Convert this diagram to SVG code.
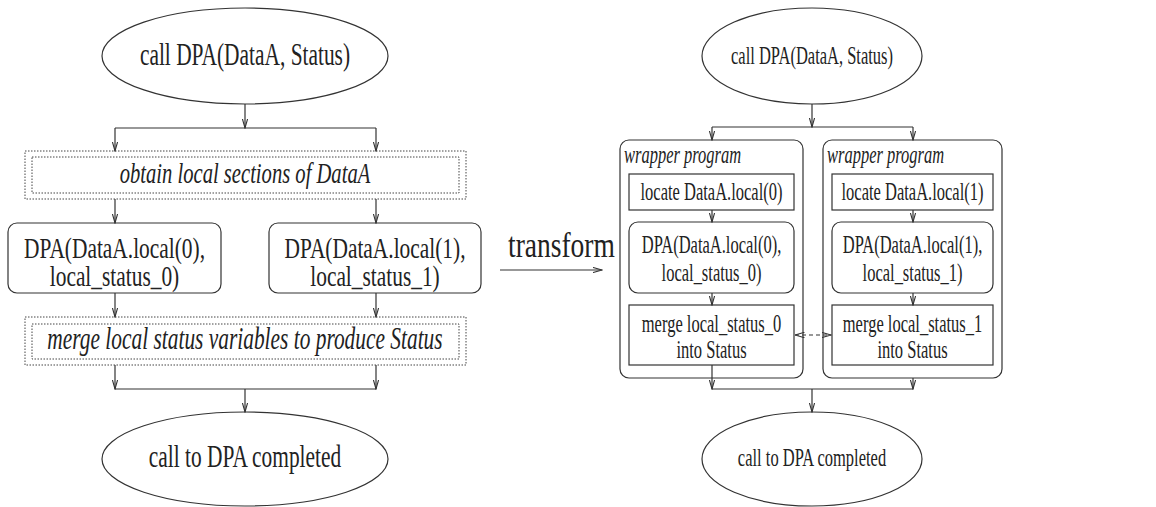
<svg xmlns="http://www.w3.org/2000/svg" width="1156" height="507" viewBox="0 0 1156 507">
  <style>
    .shape { fill: none; stroke: #333; stroke-width: 1.2; }
    .dot { fill: none; stroke: #444; stroke-width: 1; stroke-dasharray: 1.5 1.5; }
    .link { fill: none; stroke: #333; stroke-width: 1.2; }
    .arr { marker-end: url(#vee); }
    .dash { stroke-dasharray: 4 3; marker-start: url(#vee); marker-end: url(#vee); }
    text { font-family: "Liberation Serif", "Times New Roman", serif; fill: #222; text-anchor: middle; }
    .big { font-size: 21.4px; }
    .small { font-size: 16.5px; }
    .it { font-style: italic; }
    .lft { text-anchor: start; }
  </style>
  <defs>
    <marker id="vee" viewBox="0 0 10 6" refX="9.5" refY="3" markerWidth="10" markerHeight="6" markerUnits="userSpaceOnUse" orient="auto-start-reverse">
      <path d="M0,0.3 L9.5,3 L0,5.7" fill="none" stroke="#333" stroke-width="1.1"/>
    </marker>
  </defs>

  <!-- connectors -->
  <g id="connectors">
    <!-- original flow -->
    <line class="link arr" x1="245" y1="104" x2="245" y2="128"/>
    <line class="link" x1="115" y1="128" x2="376" y2="128"/>
    <line class="link arr" x1="115" y1="128" x2="115" y2="151"/>
    <line class="link arr" x1="376" y1="128" x2="376" y2="151"/>
    <line class="link arr" x1="115" y1="199" x2="115" y2="223"/>
    <line class="link arr" x1="376" y1="199" x2="376" y2="223"/>
    <line class="link arr" x1="115" y1="293" x2="115" y2="317"/>
    <line class="link arr" x1="376" y1="293" x2="376" y2="317"/>
    <line class="link arr" x1="115" y1="365" x2="115" y2="389"/>
    <line class="link arr" x1="376" y1="365" x2="376" y2="389"/>
    <line class="link" x1="115" y1="389" x2="376" y2="389"/>
    <line class="link arr" x1="245" y1="389" x2="245" y2="412"/>

    <!-- transform arrow -->
    <line class="link arr" x1="500" y1="270" x2="602" y2="270"/>

    <!-- transformed flow -->
    <line class="link arr" x1="812" y1="104" x2="812" y2="127"/>
    <line class="link" x1="712" y1="127" x2="913" y2="127"/>
    <line class="link arr" x1="712" y1="127" x2="712" y2="140"/>
    <line class="link arr" x1="913" y1="127" x2="913" y2="140"/>
    <line class="link arr" x1="712" y1="210" x2="712" y2="222"/>
    <line class="link arr" x1="913" y1="210" x2="913" y2="222"/>
    <line class="link arr" x1="712" y1="293" x2="712" y2="305"/>
    <line class="link arr" x1="913" y1="293" x2="913" y2="305"/>
    <line class="link dash" x1="795" y1="335" x2="831" y2="335"/>
    <line class="link arr" x1="712" y1="365" x2="712" y2="389"/>
    <line class="link arr" x1="913" y1="378" x2="913" y2="389"/>
    <line class="link" x1="712" y1="389" x2="913" y2="389"/>
    <line class="link arr" x1="812" y1="389" x2="812" y2="412"/>
  </g>

  <!-- original program -->
  <g id="call-left">
    <ellipse class="shape" cx="245" cy="56" rx="143" ry="48"/>
    <text class="big" transform="translate(245 65) scale(1 1.44)">call DPA(DataA, Status)</text>
  </g>
  <g id="obtain-sections">
    <rect class="dot" x="25" y="151" width="441" height="48"/>
    <rect class="dot" x="32" y="157" width="427" height="36"/>
    <text class="it" style="font-size:20.6px" transform="translate(245 183) scale(1 1.46)">obtain local sections of DataA</text>
  </g>
  <g id="dpa-left-0">
    <rect class="shape" x="8" y="223" width="213" height="70" rx="9"/>
    <text class="big" transform="translate(114.5 258) scale(1 1.42)">DPA(DataA.local(0),</text>
    <text class="big" transform="translate(114.5 286) scale(1 1.42)">local_status_0)</text>
  </g>
  <g id="dpa-left-1">
    <rect class="shape" x="269" y="223" width="212" height="70" rx="9"/>
    <text class="big" transform="translate(375 258) scale(1 1.42)">DPA(DataA.local(1),</text>
    <text class="big" transform="translate(375 286) scale(1 1.42)">local_status_1)</text>
  </g>
  <g id="merge-status">
    <rect class="dot" x="25" y="317" width="441" height="48"/>
    <rect class="dot" x="32" y="324" width="427" height="35"/>
    <text class="big it" transform="translate(245 349) scale(1 1.44)">merge local status variables to produce Status</text>
  </g>
  <g id="done-left">
    <ellipse class="shape" cx="245" cy="459" rx="143" ry="47"/>
    <text class="big" transform="translate(245 467) scale(1 1.44)">call to DPA completed</text>
  </g>

  <g id="transform-label">
    <text style="font-size:27.5px" class="lft" transform="translate(508 257) scale(1 1.3)">transform</text>
  </g>

  <!-- transformed program -->
  <g id="call-right">
    <ellipse class="shape" cx="812" cy="56" rx="110" ry="48"/>
    <text class="small" transform="translate(812 64) scale(1 1.55)">call DPA(DataA, Status)</text>
  </g>
  <g id="wrapper-0">
    <rect class="shape" x="620" y="140" width="183" height="238" rx="9"/>
    <text class="small it lft" transform="translate(624 163) scale(1 1.55)">wrapper program</text>
    <rect class="shape" x="629" y="174" width="165" height="36"/>
    <text class="small" transform="translate(711.5 200) scale(1 1.55)">locate DataA.local(0)</text>
    <rect class="shape" x="629" y="222" width="165" height="71" rx="9"/>
    <text class="small" transform="translate(711.5 253) scale(1 1.55)">DPA(DataA.local(0),</text>
    <text class="small" transform="translate(711.5 281) scale(1 1.55)">local_status_0)</text>
    <rect class="shape" x="629" y="305" width="165" height="60"/>
    <text class="small" transform="translate(711.5 332) scale(1 1.55)">merge local_status_0</text>
    <text class="small" transform="translate(711.5 358) scale(1 1.55)">into Status</text>
  </g>
  <g id="wrapper-1">
    <rect class="shape" x="823" y="140" width="179" height="238" rx="9"/>
    <text class="small it lft" transform="translate(827 163) scale(1 1.55)">wrapper program</text>
    <rect class="shape" x="832" y="174" width="161" height="36"/>
    <text class="small" transform="translate(912.5 200) scale(1 1.55)">locate DataA.local(1)</text>
    <rect class="shape" x="832" y="222" width="161" height="71" rx="9"/>
    <text class="small" transform="translate(912.5 253) scale(1 1.55)">DPA(DataA.local(1),</text>
    <text class="small" transform="translate(912.5 281) scale(1 1.55)">local_status_1)</text>
    <rect class="shape" x="832" y="305" width="161" height="60"/>
    <text class="small" transform="translate(912.5 332) scale(1 1.55)">merge local_status_1</text>
    <text class="small" transform="translate(912.5 358) scale(1 1.55)">into Status</text>
  </g>
  <g id="done-right">
    <ellipse class="shape" cx="812" cy="459" rx="110" ry="47"/>
    <text class="small" transform="translate(812 466) scale(1 1.55)">call to DPA completed</text>
  </g>
</svg>
